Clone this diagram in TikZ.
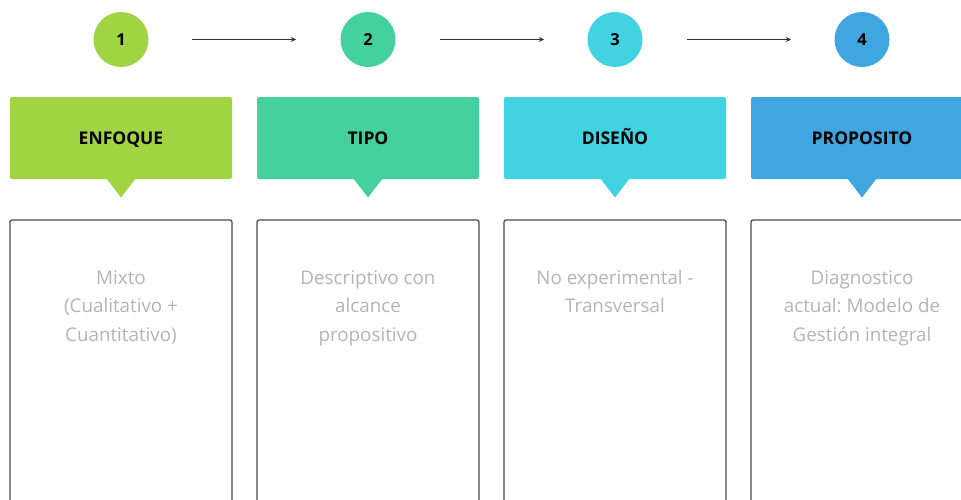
\documentclass[tikz,border=0pt]{standalone}
\usepackage{fontspec}
\setmainfont{Open Sans}
\frenchspacing
\usetikzlibrary{arrows.meta}
\definecolor{cA}{HTML}{A0D443}
\definecolor{cB}{HTML}{45D09F}
\definecolor{cC}{HTML}{42D3E3}
\definecolor{cD}{HTML}{40A6E0}
\definecolor{txtgray}{HTML}{B4B4B4}
\definecolor{boxline}{HTML}{4A4A4A}
\definecolor{arrline}{HTML}{333333}
\tikzset{
  numcirc/.style={circle, minimum size=55pt, inner sep=0pt, text height=11.5pt, text depth=0pt,
     font=\fontsize{16.5}{16.5}\selectfont\bfseries},
  headbox/.style={minimum width=222pt, minimum height=82pt, inner sep=0pt, rounded corners=2pt,
     text height=12.5pt, text depth=0pt, font=\fontsize{17.5}{17.5}\selectfont\bfseries},
  contentbox/.style={draw=boxline, line width=1.3pt, rounded corners=2pt, minimum width=222pt,
     minimum height=300pt, inner sep=0pt},
  bodytext/.style={text=txtgray, align=center, inner sep=0pt, anchor=north,
     font=\fontsize{18.8}{28.5}\selectfont},
  flowarrow/.style={draw=arrline, line width=1.2pt, -{Stealth[length=5pt,width=5pt]}},
}
\begin{document}
\begin{tikzpicture}[x=1pt,y=-1pt]
\frenchspacing
\useasboundingbox (0,0) rectangle (961,499);
\clip (0,0) rectangle (961,499);
% circles
\node[numcirc, fill=cA] (n1) at (121,39.5) {1};
\node[numcirc, fill=cB] (n2) at (368,39.5) {2};
\node[numcirc, fill=cC] (n3) at (615,39.5) {3};
\node[numcirc, fill=cD] (n4) at (862,39.5) {4};
% arrow ends
\coordinate (a1s) at (192,39.5); \coordinate (a1e) at (296,39.5);
\coordinate (a2s) at (440,39.5); \coordinate (a2e) at (544,39.5);
\coordinate (a3s) at (687,39.5); \coordinate (a3e) at (791,39.5);
\draw[flowarrow] (a1s) -- (a1e);
\draw[flowarrow] (a2s) -- (a2e);
\draw[flowarrow] (a3s) -- (a3e);
% headers
\foreach \i/\x/\c/\t in {1/121/cA/ENFOQUE, 2/368/cB/TIPO, 3/615/cC/DISEÑO, 4/862/cD/PROPOSITO}{
  \fill[\c] (\x-15,178) -- (\x,197.5) -- (\x+15,178) -- cycle;
  \node[headbox, fill=\c] (h\i) at (\x,138) {\t};
  \node[contentbox] (b\i) at (\x,370) {};
}
\node[bodytext] (t1) at (121,270) {Mixto\\(Cualitativo +\\Cuantitativo)};
\node[bodytext] (t2) at (368,270) {Descriptivo con\\alcance\\propositivo};
\node[bodytext] (t3) at (615,270) {No experimental -\\Transversal};
\node[bodytext] (t4) at (862,270) {Diagnostico\\actual: Modelo de\\Gestión integral};
\end{tikzpicture}
\end{document}
